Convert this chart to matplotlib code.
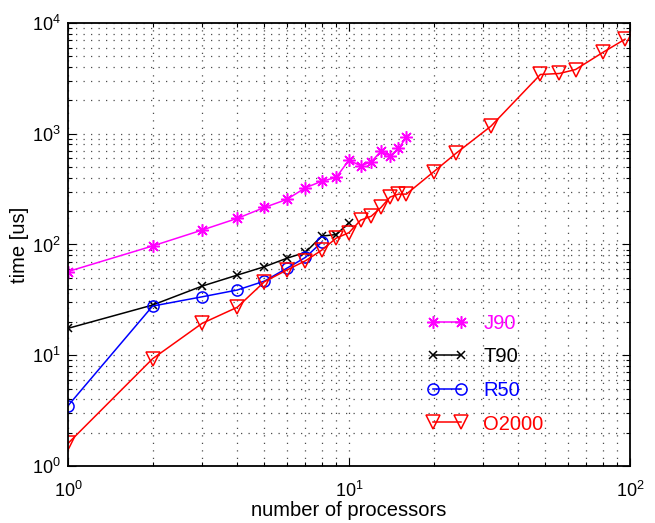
import numpy as np
import matplotlib
matplotlib.use("Agg")
import matplotlib.pyplot as plt
from matplotlib.ticker import LogLocator, NullFormatter

plt.rcParams["font.family"] = ["Liberation Sans", "DejaVu Sans"]

# processor counts and timings [us]
n_j90 = [1, 2, 3, 4, 5, 6, 7, 8, 9, 10, 11, 12, 13, 14, 15, 16]
t_j90 = [57, 97, 135, 172, 216, 255, 325, 373, 403, 578, 513, 557, 697, 628, 737, 926]

n_t90 = [1, 2, 3, 4, 5, 6, 7, 8, 9, 10]
t_t90 = [17.5, 28.4, 42.1, 52.9, 63, 75, 85, 119, 123, 157]

n_r50 = [1, 2, 3, 4, 5, 6, 7, 8]
t_r50 = [3.5, 27.8, 33.7, 38.8, 46.7, 60.9, 76.5, 105]

n_o2k = [1, 2, 3, 4, 5, 6, 7, 8, 9, 10, 11, 12, 13, 14, 15, 16,
         20, 24, 32, 48, 56, 64, 80, 96]
t_o2k = [1.6, 9.3, 19.4, 27.1, 46.1, 58.7, 71.3, 89, 114, 128, 166, 180, 216,
         268, 285, 285, 453, 664, 1170, 3430, 3500, 3800, 5420, 7140]

fig = plt.figure(figsize=(6.55, 5.23), dpi=100)
ax = fig.add_axes([68 / 655, 57 / 523, 562 / 655, 443 / 523])

asterisk = (8, 2, 0)
ax.loglog(n_j90, t_j90, color="#ff00ff", lw=1.1, marker=asterisk, ms=9,
          mew=1.1, label="J90")
ax.loglog(n_t90, t_t90, color="k", lw=1.1, marker="x", ms=5.5,
          mew=1.1, label="T90")
ax.loglog(n_r50, t_r50, color="#0000ff", lw=1.1, marker="o", ms=8,
          mfc="none", mew=1.1, label="R50")
ax.loglog(n_o2k, t_o2k, color="#ff0000", lw=1.1, marker="v", ms=10,
          mfc="none", mew=1.1, label="O2000")

ax.set_xlim(1, 100)
ax.set_ylim(1, 1e4)

for axis in (ax.xaxis, ax.yaxis):
    axis.set_major_locator(LogLocator(base=10))
    axis.set_minor_locator(LogLocator(base=10, subs=np.arange(2, 10)))
    axis.set_minor_formatter(NullFormatter())

# matlab-style sparse dotted grid
ax.grid(True, which="both", ls=(0, (1, 5)), lw=0.9, color="0.3")
ax.tick_params(which="both", direction="in", top=True, right=True,
               width=0.8, labelsize=13)
ax.tick_params(which="major", length=6)
ax.tick_params(which="minor", length=3)
ax.tick_params(axis="x", pad=11)
ax.tick_params(axis="y", pad=5)
for sp in ax.spines.values():
    sp.set_linewidth(1.3)

ax.set_xlabel("number of processors", fontsize=14.5, labelpad=0)
ax.set_ylabel("time [us]", fontsize=14.5, labelpad=2)

leg = ax.legend(loc="upper left", bbox_to_anchor=(427 / 655, 1 - 314 / 523),
                bbox_transform=fig.transFigure, frameon=False, numpoints=2,
                fontsize=14.5, handlelength=2.0, handletextpad=0.8,
                labelspacing=0.72, borderpad=0, borderaxespad=0,
                labelcolor="linecolor")

fig.savefig("out.png", dpi=100)
